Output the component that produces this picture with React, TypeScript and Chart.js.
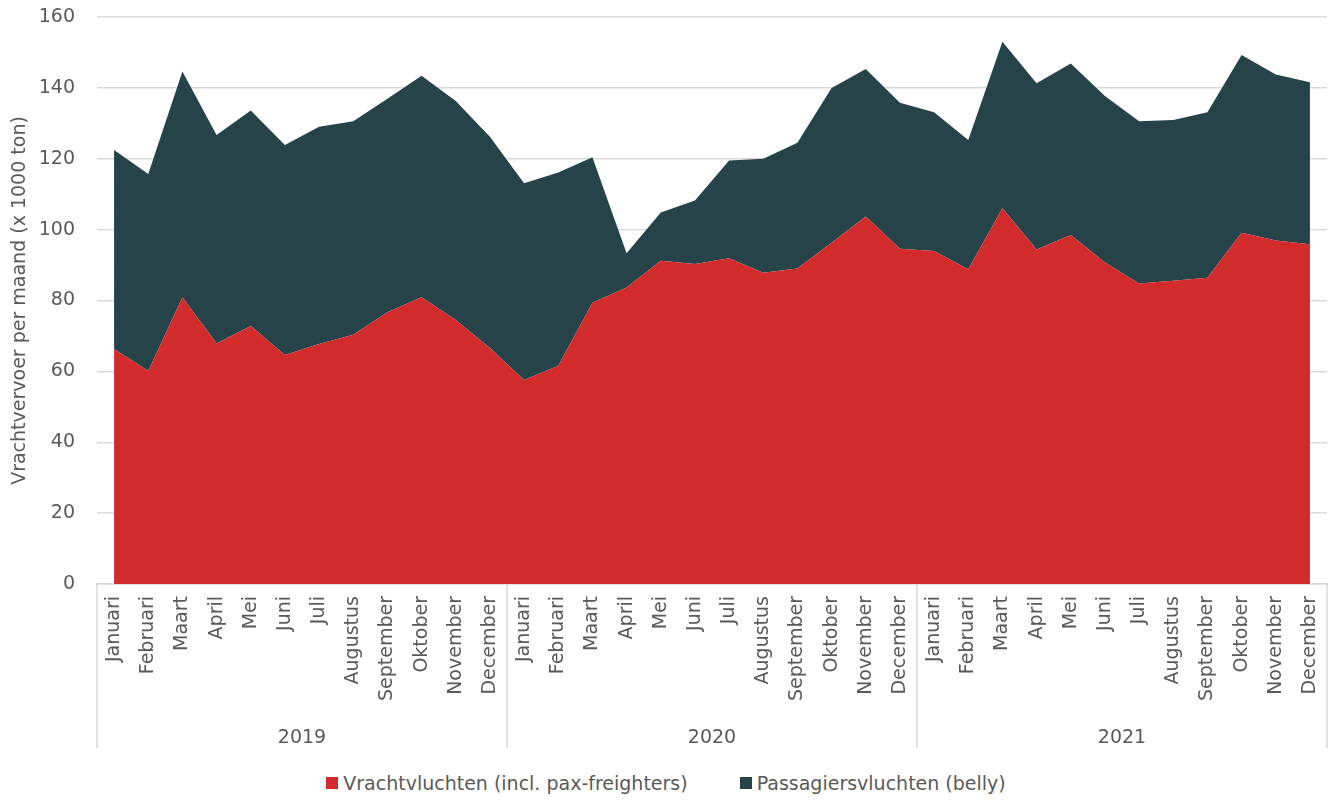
import React, { useEffect, useRef } from "react";
import { Chart, registerables } from "chart.js";

Chart.register(...registerables);

const MONTHS = ["Januari", "Februari", "Maart", "April", "Mei", "Juni", "Juli", "Augustus", "September", "Oktober", "November", "December"];
const YEARS = ["2019", "2020", "2021"];

// Vrachtvluchten (incl. pax-freighters), x 1000 ton
const VRACHT_2019 = [66.3, 60.1, 80.9, 67.9, 72.8, 64.6, 67.7, 70.3, 76.7, 80.9, 74.5, 66.6];
const VRACHT_2020 = [57.6, 61.6, 79.4, 83.7, 91.2, 90.3, 91.9, 87.8, 89.0, 96.3, 103.7, 94.6];
const VRACHT_2021 = [94.0, 88.8, 106.0, 94.4, 98.5, 90.7, 84.8, 85.6, 86.4, 99.1, 96.9, 95.9];

// Passagiersvluchten (belly), x 1000 ton
const BELLY_2019 = [56.2, 55.6, 63.7, 58.8, 60.8, 59.3, 61.3, 60.3, 60.2, 62.5, 61.8, 59.6];
const BELLY_2020 = [55.5, 54.5, 41.0, 9.6, 13.6, 17.9, 27.6, 32.2, 35.5, 43.7, 41.6, 41.2];
const BELLY_2021 = [39.1, 36.5, 47.0, 46.9, 48.4, 47.0, 45.8, 45.3, 46.7, 50.2, 46.9, 45.7];

const SERIES_NAMES = ["Vrachtvluchten (incl. pax-freighters)", "Passagiersvluchten (belly)"];
const COLORS = ["#D12C2B", "#27434A"];

const Y_MIN = 0;
const Y_MAX = 160;
const Y_STEP = 20;

const FONT = "'DejaVu Sans', sans-serif";
const TEXT = "#595959";
const GRID = "#d9d9d9";

const separatorPlugin = {
  id: "yearSeparators",
  afterDraw(chart: any) {
    const x = chart.scales.x;
    const x2 = chart.scales.x2;
    if (!x || !x2) return;
    const ctx = chart.ctx;
    const n = x.ticks.length;
    const xs: number[] = [x.left];
    for (let i = MONTHS.length; i < n; i += MONTHS.length) {
      xs.push((x.getPixelForTick(i - 1) + x.getPixelForTick(i)) / 2);
    }
    xs.push(x.right);
    ctx.save();
    ctx.strokeStyle = GRID;
    ctx.lineWidth = 1.5;
    xs.forEach((px) => {
      const p = Math.round(px);
      ctx.beginPath();
      ctx.moveTo(p, x.top);
      ctx.lineTo(p, x2.bottom);
      ctx.stroke();
    });
    ctx.restore();
  },
};

export default function App() {
  const ref = useRef<HTMLCanvasElement | null>(null);

  useEffect(() => {
    document.body.style.margin = "0";
    if (!ref.current) return;
    const labels = YEARS.flatMap(() => MONTHS);
    const vracht = [...VRACHT_2019, ...VRACHT_2020, ...VRACHT_2021];
    const belly = [...BELLY_2019, ...BELLY_2020, ...BELLY_2021];

    const chart = new Chart(ref.current, {
      type: "line",
      data: {
        labels,
        datasets: [
          {
            label: SERIES_NAMES[0],
            data: vracht,
            backgroundColor: COLORS[0],
            borderColor: COLORS[0],
            borderWidth: 0,
            pointRadius: 0,
            fill: "origin",
            tension: 0,
          },
          {
            label: SERIES_NAMES[1],
            data: belly,
            backgroundColor: COLORS[1],
            borderColor: COLORS[1],
            borderWidth: 0,
            pointRadius: 0,
            fill: "-1",
            tension: 0,
          },
        ],
      },
      options: {
        animation: false,
        responsive: false,
        maintainAspectRatio: false,
        layout: { padding: { top: 17, right: 5, left: 0, bottom: 12 } },
        plugins: {
          legend: { display: false },
          tooltip: { enabled: false },
        },
        font: { family: FONT, size: 19 },
        scales: {
          x: {
            type: "category",
            position: "bottom",
            weight: 1,
            offset: true,
            afterFit: (scale: any) => {
              scale.height = 123;
              scale.paddingLeft = 0;
              scale.paddingRight = 0;
            },
            grid: { display: true, drawOnChartArea: false, drawTicks: false, color: GRID },
            border: { display: true, color: GRID, width: 1.5 },
            ticks: {
              autoSkip: false,
              minRotation: 90,
              maxRotation: 90,
              padding: 12,
              color: TEXT,
              font: { family: FONT, size: 19 },
            },
          },
          x2: {
            type: "category",
            position: "bottom",
            weight: 2,
            labels: YEARS,
            offset: true,
            afterFit: (scale: any) => {
              scale.height = 41;
              scale.paddingLeft = 0;
              scale.paddingRight = 0;
            },
            grid: { display: false, drawTicks: false },
            border: { display: false },
            ticks: {
              autoSkip: false,
              maxRotation: 0,
              minRotation: 0,
              padding: 20,
              color: TEXT,
              font: { family: FONT, size: 19 },
            },
          },
          y: {
            stacked: true,
            min: Y_MIN,
            max: Y_MAX,
            afterFit: (scale: any) => {
              scale.width = 97;
              scale.paddingTop = 0;
              scale.paddingBottom = 0;
            },
            grid: { color: GRID, lineWidth: 1.5, drawTicks: false },
            border: { display: false },
            ticks: {
              stepSize: Y_STEP,
              padding: 22,
              color: TEXT,
              font: { family: FONT, size: 19 },
            },
            title: {
              display: true,
              text: "Vrachtvervoer per maand (x 1000 ton)",
              color: TEXT,
              font: { family: FONT, size: 19 },
              padding: { top: 9, bottom: 0 },
            },
          },
        },
      } as any,
      plugins: [separatorPlugin],
    });
    return () => chart.destroy();
  }, []);

  return (
    <div style={{ position: "relative", width: 1332, height: 801, background: "#fff" }}>
      <canvas ref={ref} width={1332} height={760} style={{ display: "block", width: 1332, height: 760 }} />
      <div
        style={{
          position: "absolute",
          left: 0,
          top: 772,
          width: 1332,
          display: "flex",
          justifyContent: "center",
          alignItems: "center",
          fontFamily: FONT,
          fontSize: 19,
          lineHeight: "22px",
          color: TEXT,
          gap: 52,
        }}
      >
        {SERIES_NAMES.map((name, i) => (
          <div key={name} style={{ display: "flex", alignItems: "center" }}>
            <span style={{ display: "inline-block", width: 12, height: 12, background: COLORS[i], marginRight: 5 }} />
            <span>{name}</span>
          </div>
        ))}
      </div>
    </div>
  );
}
